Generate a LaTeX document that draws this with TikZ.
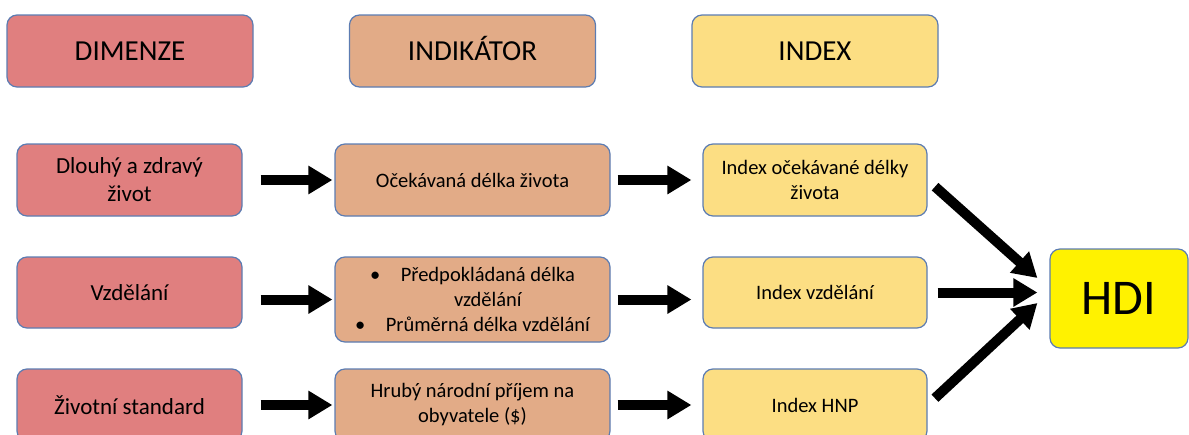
\documentclass[tikz,border=0pt]{standalone}
\usepackage{fontspec}
\setmainfont{Carlito}
\usetikzlibrary{arrows.meta}
\definecolor{boxline}{RGB}{92,124,178}
\definecolor{dimred}{RGB}{224,127,127}
\definecolor{indorange}{RGB}{226,171,135}
\definecolor{idxyellow}{RGB}{252,222,131}
\begin{document}
\begin{tikzpicture}[x=1pt,y=-1pt,
    box/.style={draw=boxline,line width=1.2pt,rounded corners=10pt,align=center,inner sep=0pt,
        minimum height=72pt,font=\fontsize{20.5}{25}\selectfont},
    dim/.style={box,fill=dimred,minimum width=225pt},
    ind/.style={box,fill=indorange,minimum width=275pt},
    idx/.style={box,fill=idxyellow,minimum width=224pt},
    head/.style={minimum width=246pt,text height=18.5pt,text depth=0pt,font=\fontsize{29}{35}\selectfont},
    blockarrow/.style={line width=10pt,-{Triangle[length=24pt,width=27pt]}}]
    \useasboundingbox (0,0) rectangle (1189,434);

    \foreach \n/\s/\x/\t in {dimenze/dim/130/DIMENZE,indikator/ind/472.5/INDIKÁTOR,index/idx/815/INDEX}
        {\node[\s,head] (\n) at (\x,51) {\t};}

    \node[dim,font=\fontsize{23}{28}\selectfont] (d1) at (129.5,180) {Dlouhý a zdravý\\život};
    \node[dim,font=\fontsize{23}{28}\selectfont,minimum height=71pt] (d2) at (129.5,292.5) {Vzdělání};
    \node[dim,font=\fontsize{23}{28}\selectfont] (d3) at (129.5,405) {Životní standard};

    \node[ind] (i1) at (472.5,180) {Očekávaná délka života};
    \node[ind,minimum height=85pt] (i2) at (472.5,299.5)
        {\textbullet\hspace{1em}Předpokládaná délka\\\hphantom{\textbullet\hspace{1em}}vzdělání\\\textbullet\hspace{1em}Průměrná délka vzdělání};
    \node[ind] (i3) at (472.5,405) {Hrubý národní příjem na\\obyvatele (\$)};

    \node[idx] (x1) at (815,180) {Index očekávané délky\\života};
    \node[idx,minimum height=71pt] (x2) at (815,292.5) {Index vzdělání};
    \node[idx] (x3) at (815,405) {Index HNP};

    \node[box,fill=yellow,minimum width=138pt,minimum height=99pt,text height=32pt,text depth=0pt,
        font=\fontsize{50}{60}\selectfont] (hdi) at (1119,298.5) {HDI};

    \coordinate (h1) at ([shift={(-12,-20.5)}]hdi.west);
    \coordinate (h2) at ([shift={(-12,-6)}]hdi.west);
    \coordinate (h3) at ([shift={(-12,4.5)}]hdi.west);

    \draw[blockarrow,shorten <=18pt,shorten >=2pt] (d1) -- (i1);
    \draw[blockarrow,shorten <=18pt,shorten >=2pt] (d2.east |- i2) -- (i2);
    \draw[blockarrow,shorten <=18pt,shorten >=2pt] (d3) -- (i3);
    \draw[blockarrow,shorten <=7pt,shorten >=11pt] (i1) -- (x1);
    \draw[blockarrow,shorten <=7pt,shorten >=11pt] (i2) -- (x2.west |- i2);
    \draw[blockarrow,shorten <=7pt,shorten >=11pt] (i3) -- (x3);
    \draw[blockarrow,shorten <=10pt] (x1.east) -- (h1);
    \draw[blockarrow,shorten <=10pt] (x2) -- (h2);
    \draw[blockarrow,shorten <=10pt] (x3.east) -- (h3);
\end{tikzpicture}
\end{document}
